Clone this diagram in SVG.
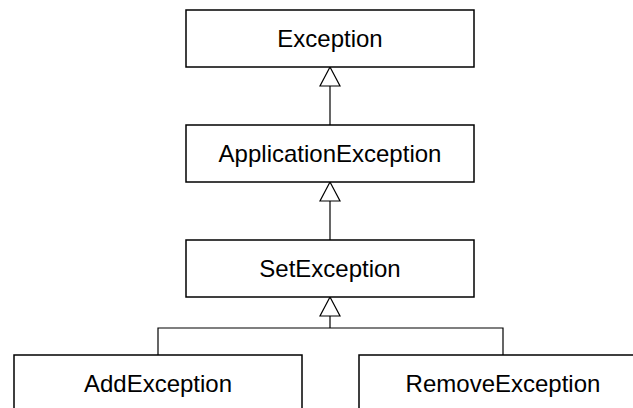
<svg xmlns="http://www.w3.org/2000/svg" width="633" height="408" viewBox="0 0 633 408">
<style>
.box{fill:#fff;stroke:#000;stroke-width:1.5}
.lbl{font-family:"Liberation Sans",Arial,sans-serif;font-size:24px;fill:#000;text-anchor:middle}
.ln{stroke:#000;stroke-width:1.2;fill:none}
.tri{fill:#fff;stroke:#000;stroke-width:1.2}
</style>
<rect width="633" height="408" fill="#fff"/>
<g id="connectors">
<line class="ln" x1="330" y1="86" x2="330" y2="125"/>
<polygon class="tri" points="330,67 320,86 340,86"/>
<line class="ln" x1="330" y1="201" x2="330" y2="240"/>
<polygon class="tri" points="330,182 320,201 340,201"/>
<polyline class="ln" points="330,316 330,328"/>
<polyline class="ln" points="158,355 158,328 503,328 503,355"/>
<polygon class="tri" points="330,297 320,316 340,316"/>
</g>
<g id="exception">
<rect class="box" x="186" y="10" width="288" height="57"/>
<text class="lbl" x="330" y="47">Exception</text>
</g>
<g id="applicationexception">
<rect class="box" x="186" y="125" width="288" height="57"/>
<text class="lbl" x="330" y="162">ApplicationException</text>
</g>
<g id="setexception">
<rect class="box" x="186" y="240" width="288" height="57"/>
<text class="lbl" x="330" y="277">SetException</text>
</g>
<g id="addexception">
<rect class="box" x="14" y="355" width="288" height="57"/>
<text class="lbl" x="158" y="392">AddException</text>
</g>
<g id="removeexception">
<rect class="box" x="359" y="355" width="288" height="57"/>
<text class="lbl" x="503" y="392">RemoveException</text>
</g>
</svg>
